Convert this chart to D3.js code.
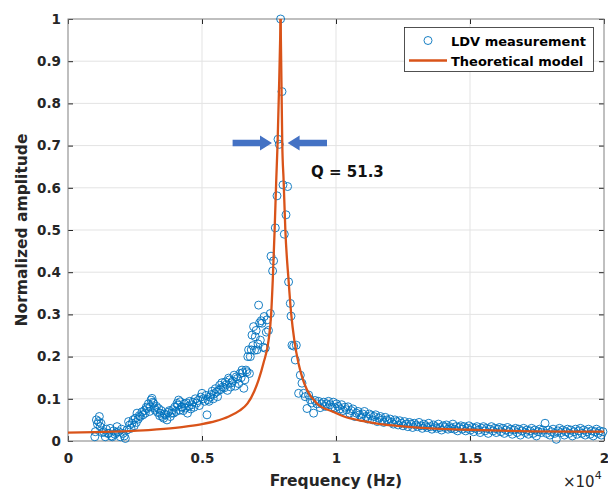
<!DOCTYPE html>
<html>
<head>
<meta charset="utf-8">
<script src="https://cdn.jsdelivr.net/npm/d3@7"></script>
<style>
  body { margin: 0; background: #fff; }
  text { font-family: "DejaVu Sans", sans-serif; }
</style>
</head>
<body>
<svg id="chart" width="608" height="491"></svg>
<script>
const measured = [
  [1000,0.010],[1020,0.022],[1060,0.050],[1100,0.040],[1140,0.046],[1170,0.058],[1200,0.034],[1230,0.042],
  [1280,0.020],[1330,0.022],[1390,0.010],[1430,0.028],[1480,0.018],[1520,0.018],[1570,0.030],[1620,0.012],
  [1650,0.010],[1700,0.024],[1750,0.016],[1800,0.020],[1830,0.034],[1890,0.022],[1950,0.010],[2000,0.028],
  [2050,0.018],[2100,0.012],[2140,0.006],[2200,0.026],[2260,0.046],[2300,0.038],[2350,0.030],[2390,0.042],
  [2430,0.050],[2470,0.036],[2510,0.054],[2550,0.044],[2575,0.066],[2620,0.052],[2660,0.060],[2700,0.058],
  [2760,0.069],[2800,0.062],[2850,0.072],[2884,0.066],[2920,0.080],[2948,0.077],[3000,0.088],[3040,0.070],
  [3071,0.081],[3100,0.097],[3134,0.101],[3170,0.092],[3194,0.089],[3230,0.078],[3257,0.073],[3300,0.082],
  [3340,0.068],[3381,0.077],[3420,0.060],[3444,0.066],[3480,0.072],[3520,0.058],[3567,0.054],[3600,0.064],
  [3650,0.062],[3694,0.050],[3740,0.068],[3780,0.072],[3817,0.058],[3860,0.066],[3900,0.074],[3940,0.066],
  [3980,0.080],[4030,0.070],[4067,0.089],[4100,0.085],[4127,0.097],[4160,0.073],[4190,0.093],[4230,0.080],
  [4254,0.081],[4300,0.072],[4340,0.088],[4380,0.078],[4420,0.090],[4460,0.066],[4500,0.082],[4540,0.094],
  [4580,0.076],[4620,0.086],[4660,0.092],[4700,0.080],[4750,0.100],[4800,0.090],[4850,0.096],[4900,0.084],
  [4950,0.104],[5000,0.113],[5050,0.100],[5100,0.094],[5150,0.108],[5187,0.062],[5220,0.098],[5260,0.094],
  [5300,0.104],[5340,0.110],[5380,0.118],[5420,0.100],[5460,0.112],[5500,0.124],[5540,0.116],[5580,0.105],
  [5620,0.120],[5660,0.132],[5700,0.122],[5740,0.138],[5780,0.128],[5830,0.126],[5870,0.140],[5910,0.134],
  [5950,0.120],[5993,0.149],[6030,0.145],[6070,0.128],[6110,0.138],[6150,0.142],[6200,0.156],[6240,0.130],
  [6280,0.152],[6320,0.148],[6370,0.136],[6420,0.160],[6460,0.150],[6493,0.168],[6520,0.162],[6560,0.125],
  [6600,0.145],[6640,0.168],[6680,0.164],[6710,0.200],[6739,0.216],[6770,0.160],[6802,0.200],[6840,0.216],
  [6866,0.251],[6900,0.226],[6925,0.271],[6960,0.215],[6989,0.247],[7020,0.262],[7052,0.216],[7090,0.230],
  [7112,0.322],[7150,0.280],[7176,0.239],[7210,0.285],[7239,0.279],[7280,0.222],[7320,0.295],[7362,0.220],
  [7400,0.258],[7425,0.287],[7480,0.262],[7549,0.302],[7575,0.438],[7635,0.403],[7672,0.427],[7735,0.505],
  [7799,0.581],[7836,0.715],[7884,0.703],[7933,1.000],[7985,0.828],[8022,0.607],[8071,0.490],[8134,0.536],
  [8194,0.603],[8231,0.377],[8295,0.326],[8321,0.296],[8358,0.227],[8420,0.225],[8481,0.192],[8519,0.227],
  [8605,0.113],[8668,0.156],[8731,0.137],[8791,0.113],[8850,0.105],[8918,0.077],[8978,0.109],[9040,0.098],
  [9100,0.090],[9164,0.066],[9220,0.096],[9290,0.088],[9350,0.094],[9410,0.079],[9470,0.088],[9540,0.092],
  [9600,0.082],[9660,0.088],[9720,0.094],[9780,0.086],[9840,0.080],[9900,0.092],[9960,0.079],[10020,0.088],
  [10080,0.082],[10150,0.076],[10210,0.086],[10270,0.072],[10330,0.080],[10390,0.074],[10450,0.081],[10510,0.066],
  [10570,0.072],[10630,0.076],[10700,0.058],[10760,0.066],[10820,0.070],[10880,0.062],[10940,0.056],[11000,0.064],
  [11060,0.070],[11120,0.058],[11180,0.052],[11240,0.064],[11300,0.060],[11360,0.050],[11420,0.058],[11480,0.062],
  [11540,0.046],[11600,0.054],[11660,0.058],[11720,0.050],[11780,0.044],[11840,0.056],[11900,0.050],[11960,0.046],
  [12020,0.052],[12080,0.044],[12140,0.040],[12200,0.050],[12260,0.046],[12320,0.038],[12380,0.048],[12440,0.042],
  [12500,0.036],[12560,0.046],[12620,0.040],[12680,0.034],[12740,0.044],[12800,0.040],[12860,0.032],[12920,0.042],
  [12980,0.038],[13040,0.034],[13100,0.044],[13160,0.036],[13220,0.030],[13280,0.040],[13340,0.036],[13400,0.032],
  [13460,0.042],[13520,0.034],[13580,0.028],[13640,0.038],[13700,0.034],[13760,0.030],[13820,0.040],[13880,0.032],
  [13940,0.026],[14000,0.036],[14060,0.032],[14120,0.038],[14180,0.028],[14240,0.034],[14300,0.030],[14360,0.040],
  [14420,0.028],[14480,0.034],[14540,0.024],[14600,0.032],[14660,0.036],[14720,0.028],[14780,0.034],[14840,0.024],
  [14900,0.030],[14960,0.036],[15020,0.026],[15080,0.032],[15140,0.022],[15200,0.030],[15260,0.034],[15320,0.026],
  [15380,0.020],[15440,0.030],[15500,0.034],[15560,0.024],[15620,0.030],[15680,0.018],[15740,0.028],[15800,0.034],
  [15860,0.024],[15920,0.030],[15980,0.020],[16040,0.028],[16100,0.032],[16160,0.022],[16220,0.030],[16280,0.018],
  [16340,0.026],[16400,0.032],[16460,0.022],[16520,0.028],[16580,0.016],[16640,0.026],[16700,0.030],[16760,0.020],
  [16820,0.028],[16880,0.014],[16940,0.024],[17000,0.030],[17060,0.020],[17120,0.026],[17180,0.016],[17240,0.024],
  [17300,0.030],[17360,0.018],[17420,0.026],[17480,0.012],[17540,0.022],[17600,0.028],[17660,0.020],[17720,0.026],
  [17800,0.042],[17860,0.018],[17920,0.026],[17980,0.014],[18040,0.022],[18100,0.028],[18160,0.018],[18220,0.004],
  [18280,0.024],[18340,0.030],[18400,0.020],[18460,0.026],[18520,0.014],[18580,0.022],[18640,0.028],[18700,0.018],
  [18760,0.026],[18820,0.012],[18880,0.022],[18940,0.028],[19000,0.016],[19060,0.024],[19120,0.030],[19180,0.018],
  [19240,0.026],[19300,0.014],[19360,0.022],[19420,0.028],[19480,0.016],[19540,0.024],[19600,0.012],[19660,0.022],
  [19720,0.028],[19780,0.018],[19840,0.024],[19900,0.014],[19960,0.022]
];

// theoretical model (rising branch and falling branch)
const modelRise = [
  [0,0.020],[1000,0.021],[2000,0.023],[3000,0.026],[4000,0.031],[4500,0.035],[5000,0.040],[5500,0.047],
  [6000,0.058],[6400,0.072],[6700,0.089],[6950,0.118],[7112,0.145],[7300,0.186],[7485,0.239],[7580,0.300],
  [7640,0.381],[7710,0.500],[7770,0.618],[7820,0.705],[7880,0.850],[7933,1.000]
];
const modelFall = [
  [7933,1.000],[7965,0.850],[7995,0.705],[8045,0.618],[8110,0.500],[8230,0.381],[8330,0.300],[8444,0.239],
  [8600,0.184],[8769,0.145],[8920,0.121],[9290,0.089],[9900,0.069],[10300,0.058],[11030,0.047],[11650,0.040],
  [12280,0.036],[13520,0.030],[14760,0.027],[15760,0.025],[17250,0.023],[20000,0.022]
];

const xTicks = [0, 5000, 10000, 15000, 20000];
const xTickLabels = ["0", "0.5", "1", "1.5", "2"];
const yTicks = [0, 0.1, 0.2, 0.3, 0.4, 0.5, 0.6, 0.7, 0.8, 0.9, 1];
const yTickLabels = ["0", "0.1", "0.2", "0.3", "0.4", "0.5", "0.6", "0.7", "0.8", "0.9", "1"];

// half-power arrows: [tail, tip] frequencies at this amplitude
const arrowAmp = 0.706;
const arrowLeft = [6142, 7612];
const arrowRight = [9664, 8194];

const margin = {top: 19, right: 4, bottom: 50, left: 68};
const width = 608, height = 491;
const blue = "#0072BD", orange = "#D95319", axisColor = "#262626";

const x = d3.scaleLinear().domain([0, 20000]).range([margin.left, width - margin.right]);
const y = d3.scaleLinear().domain([0, 1]).range([height - margin.bottom, margin.top]);

const svg = d3.select("#chart");

// grid
svg.append("g")
    .selectAll("line")
    .data(xTicks.slice(1, -1))
    .join("line")
    .attr("x1", d => x(d)).attr("x2", d => x(d))
    .attr("y1", y(0)).attr("y2", y(1))
    .attr("stroke", "#e3e3e3");
svg.append("g")
    .selectAll("line")
    .data(yTicks.slice(1, -1))
    .join("line")
    .attr("x1", x(0)).attr("x2", x(20000))
    .attr("y1", d => y(d)).attr("y2", d => y(d))
    .attr("stroke", "#e3e3e3");

// axes
const styleAxis = g => {
    g.select(".domain").remove();
    g.selectAll(".tick line").attr("stroke", axisColor);
    g.selectAll(".tick text")
        .attr("fill", axisColor)
        .attr("font-size", 13.5)
        .attr("font-weight", "bold");
};

svg.append("g")
    .attr("transform", `translate(0,${y(0)})`)
    .call(d3.axisBottom(x).tickValues(xTicks).tickFormat((d, i) => xTickLabels[i])
        .tickSizeInner(-5).tickSizeOuter(0).tickPadding(12))
    .call(styleAxis);
svg.append("g")
    .attr("transform", `translate(0,${y(1)})`)
    .call(d3.axisTop(x).tickValues(xTicks).tickFormat("").tickSizeInner(-5).tickSizeOuter(0))
    .call(styleAxis);
svg.append("g")
    .attr("transform", `translate(${x(0)},0)`)
    .call(d3.axisLeft(y).tickValues(yTicks).tickFormat((d, i) => yTickLabels[i])
        .tickSizeInner(-5).tickSizeOuter(0).tickPadding(7))
    .call(styleAxis);
svg.append("g")
    .attr("transform", `translate(${x(20000)},0)`)
    .call(d3.axisRight(y).tickValues(yTicks).tickFormat("").tickSizeInner(-5).tickSizeOuter(0))
    .call(styleAxis);

svg.append("rect")
    .attr("x", x(0)).attr("y", y(1))
    .attr("width", x(20000) - x(0)).attr("height", y(0) - y(1))
    .attr("fill", "none").attr("stroke", "#808080");

// measurement circles
svg.append("g")
    .selectAll("circle")
    .data(measured)
    .join("circle")
    .attr("cx", d => x(d[0]))
    .attr("cy", d => y(d[1]))
    .attr("r", 4)
    .attr("fill", "none")
    .attr("stroke", blue)
    .attr("stroke-width", 0.9);

// model curve
const line = d3.line()
    .x(d => x(d[0]))
    .y(d => y(d[1]))
    .curve(d3.curveMonotoneX);

svg.selectAll("path.model")
    .data([modelRise, modelFall])
    .join("path")
    .attr("class", "model")
    .attr("fill", "none")
    .attr("stroke", orange)
    .attr("stroke-width", 2.3)
    .attr("stroke-linejoin", "round")
    .attr("d", line);

// arrows
const arrow = (tail, tip) => {
    const x0 = x(tail), x1 = x(tip), yc = y(arrowAmp);
    const dir = x1 > x0 ? 1 : -1;
    const hx = x1 - dir * 12;
    return `M${x0},${yc - 3.3}L${hx},${yc - 3.3}L${hx},${yc - 7.5}L${x1},${yc}` +
        `L${hx},${yc + 7.5}L${hx},${yc + 3.3}L${x0},${yc + 3.3}Z`;
};
svg.append("path").attr("d", arrow(...arrowLeft)).attr("fill", "#4472C4");
svg.append("path").attr("d", arrow(...arrowRight)).attr("fill", "#4472C4");

svg.append("text")
    .attr("x", 311).attr("y", 177)
    .attr("font-family", "Liberation Sans, Arial, sans-serif")
    .attr("font-size", 15)
    .attr("font-weight", "bold")
    .attr("fill", "#111")
    .text("Q = 51.3");

// axis labels
svg.append("text")
    .attr("x", x(10000)).attr("y", 486)
    .attr("text-anchor", "middle")
    .attr("font-size", 15.5)
    .attr("font-weight", "bold")
    .attr("fill", axisColor)
    .text("Frequency (Hz)");

svg.append("text")
    .attr("transform", `translate(27,${(y(0) + y(1)) / 2}) rotate(-90)`)
    .attr("text-anchor", "middle")
    .attr("font-size", 15.5)
    .attr("font-weight", "bold")
    .attr("fill", axisColor)
    .text("Normalized amplitude");

const expo = svg.append("text")
    .attr("x", 563).attr("y", 487)
    .attr("font-size", 15)
    .attr("fill", axisColor);
expo.append("tspan").text("×10");
expo.append("tspan").attr("font-size", 11).attr("dy", -8).text("4");

// legend
const legend = svg.append("g");
legend.append("rect")
    .attr("x", 404.5).attr("y", 27.5).attr("width", 189).attr("height", 44)
    .attr("fill", "#fff").attr("stroke", "#262626").attr("stroke-width", 0.8);
legend.append("circle")
    .attr("cx", 428).attr("cy", 40.5).attr("r", 4)
    .attr("fill", "none").attr("stroke", blue).attr("stroke-width", 0.9);
legend.append("line")
    .attr("x1", 409).attr("x2", 447).attr("y1", 60.5).attr("y2", 60.5)
    .attr("stroke", orange).attr("stroke-width", 2.3);
legend.selectAll("text")
    .data(["LDV measurement", "Theoretical model"])
    .join("text")
    .attr("x", 451)
    .attr("y", (d, i) => 45.5 + i * 20)
    .attr("font-size", 13)
    .attr("font-weight", "bold")
    .attr("fill", "#000")
    .text(d => d);
</script>
</body>
</html>
